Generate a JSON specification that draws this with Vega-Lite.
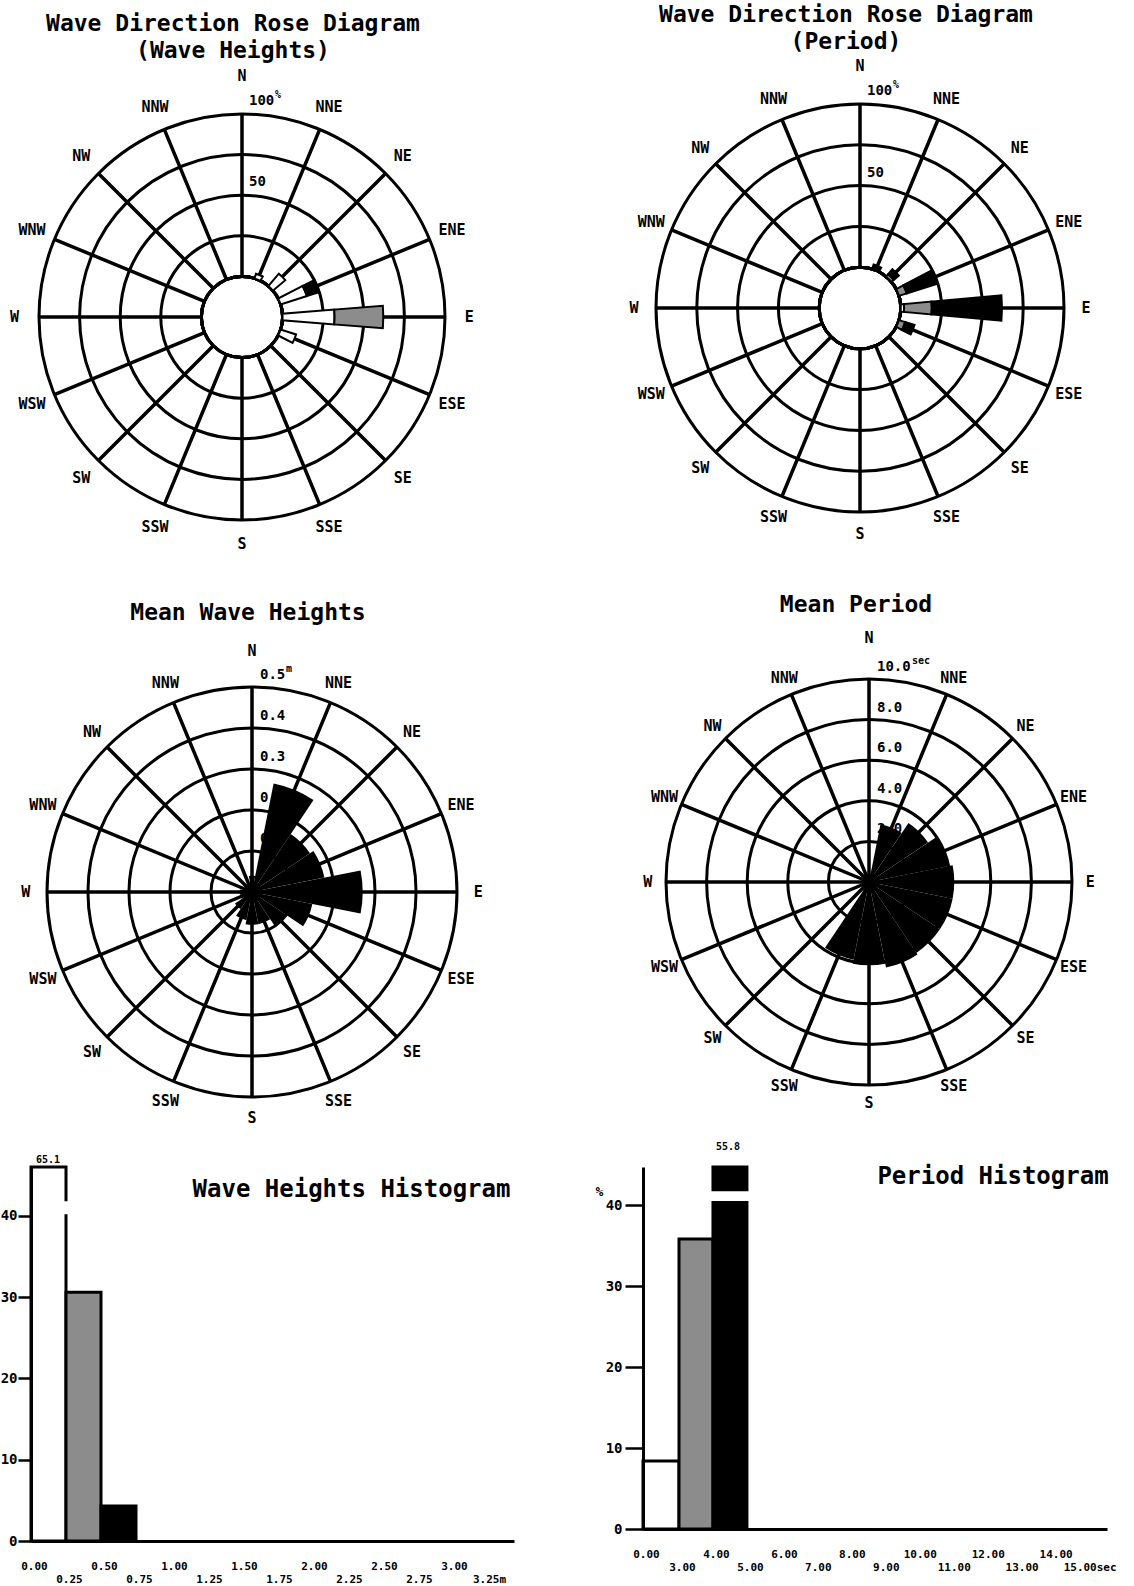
{
  "$schema": "https://vega.github.io/schema/vega-lite/v6.json",
  "background": "white",
  "padding": {"left": 0, "top": 3, "right": 0, "bottom": 0},
  "config": {
    "view": {"stroke": null},
    "text": {"font": "DejaVu Sans Mono", "fontWeight": "bold", "color": "black"},
    "axis": {"labelFont": "DejaVu Sans Mono", "labelFontWeight": "bold", "labelColor": "black", "domainColor": "black", "tickColor": "black", "grid": false, "titleFont": "DejaVu Sans Mono", "titleFontWeight": "bold", "titleColor": "black"},
    "title": {"font": "DejaVu Sans Mono", "fontWeight": "bold", "color": "black"}
  },
  "datasets": {
    "dirs": [
      {"dir": "N", "deg": 0}, {"dir": "NNE", "deg": 22.5}, {"dir": "NE", "deg": 45}, {"dir": "ENE", "deg": 67.5},
      {"dir": "E", "deg": 90}, {"dir": "ESE", "deg": 112.5}, {"dir": "SE", "deg": 135}, {"dir": "SSE", "deg": 157.5},
      {"dir": "S", "deg": 180}, {"dir": "SSW", "deg": 202.5}, {"dir": "SW", "deg": 225}, {"dir": "WSW", "deg": 247.5},
      {"dir": "W", "deg": 270}, {"dir": "WNW", "deg": 292.5}, {"dir": "NW", "deg": 315}, {"dir": "NNW", "deg": 337.5}
    ],
    "rings_pct": [
      {"pct": 25, "label": "", "unit": ""}, {"pct": 50, "label": "50", "unit": ""},
      {"pct": 75, "label": "", "unit": ""}, {"pct": 100, "label": "100", "unit": "%"}
    ],
    "inner_pct": [{"pct": 0}],
    "rings_h": [
      {"h": 0.1, "label": "0.1", "unit": ""}, {"h": 0.2, "label": "0.2", "unit": ""}, {"h": 0.3, "label": "0.3", "unit": ""},
      {"h": 0.4, "label": "0.4", "unit": ""}, {"h": 0.5, "label": "0.5", "unit": "m"}
    ],
    "rings_t": [
      {"t": 2, "label": "2.0", "unit": ""}, {"t": 4, "label": "4.0", "unit": ""}, {"t": 6, "label": "6.0", "unit": ""},
      {"t": 8, "label": "8.0", "unit": ""}, {"t": 10, "label": "10.0", "unit": "sec"}
    ],
    "rose_h": [
      {"dir": "NNE", "deg": 22.5, "k": 1, "cls": "0.00-0.25 m", "pct": 3},
      {"dir": "NE", "deg": 45, "k": 1, "cls": "0.00-0.25 m", "pct": 10},
      {"dir": "ENE", "deg": 67.5, "k": 1, "cls": "0.00-0.25 m", "pct": 17},
      {"dir": "ENE", "deg": 67.5, "k": 3, "cls": "0.50-0.75 m", "pct": 8},
      {"dir": "E", "deg": 90, "k": 1, "cls": "0.00-0.25 m", "pct": 32},
      {"dir": "E", "deg": 90, "k": 2, "cls": "0.25-0.50 m", "pct": 30},
      {"dir": "ESE", "deg": 112.5, "k": 1, "cls": "0.00-0.25 m", "pct": 10}
    ],
    "rose_t": [
      {"dir": "NNE", "deg": 22.5, "k": 3, "cls": "4-5 s", "pct": 3},
      {"dir": "NE", "deg": 45, "k": 2, "cls": "3-4 s", "pct": 2},
      {"dir": "NE", "deg": 45, "k": 3, "cls": "4-5 s", "pct": 4},
      {"dir": "ENE", "deg": 67.5, "k": 2, "cls": "3-4 s", "pct": 5},
      {"dir": "ENE", "deg": 67.5, "k": 3, "cls": "4-5 s", "pct": 19},
      {"dir": "E", "deg": 90, "k": 1, "cls": "0-3 s", "pct": 2},
      {"dir": "E", "deg": 90, "k": 2, "cls": "3-4 s", "pct": 17},
      {"dir": "E", "deg": 90, "k": 3, "cls": "4-5 s", "pct": 43},
      {"dir": "ESE", "deg": 112.5, "k": 2, "cls": "3-4 s", "pct": 4},
      {"dir": "ESE", "deg": 112.5, "k": 3, "cls": "4-5 s", "pct": 6}
    ],
    "mean_h": [
      {"dir": "N", "deg": 0, "h": 0.04}, {"dir": "NNE", "deg": 22.5, "h": 0.27}, {"dir": "NE", "deg": 45, "h": 0.17},
      {"dir": "ENE", "deg": 67.5, "h": 0.18}, {"dir": "E", "deg": 90, "h": 0.27}, {"dir": "ESE", "deg": 112.5, "h": 0.15},
      {"dir": "SE", "deg": 135, "h": 0.1}, {"dir": "SSE", "deg": 157.5, "h": 0.08}, {"dir": "S", "deg": 180, "h": 0.08},
      {"dir": "SSW", "deg": 202.5, "h": 0.07}, {"dir": "SW", "deg": 225, "h": 0.05}, {"dir": "WSW", "deg": 247.5, "h": 0.03},
      {"dir": "W", "deg": 270, "h": 0.03}, {"dir": "WNW", "deg": 292.5, "h": 0.02}, {"dir": "NW", "deg": 315, "h": 0.02},
      {"dir": "NNW", "deg": 337.5, "h": 0.02}
    ],
    "mean_t": [
      {"dir": "N", "deg": 0, "t": 0.2}, {"dir": "NNE", "deg": 22.5, "t": 2.9}, {"dir": "NE", "deg": 45, "t": 3.5},
      {"dir": "ENE", "deg": 67.5, "t": 4.0}, {"dir": "E", "deg": 90, "t": 4.2}, {"dir": "ESE", "deg": 112.5, "t": 4.2},
      {"dir": "SE", "deg": 135, "t": 4.2}, {"dir": "SSE", "deg": 157.5, "t": 4.3}, {"dir": "S", "deg": 180, "t": 4.1},
      {"dir": "SSW", "deg": 202.5, "t": 3.9}, {"dir": "SW", "deg": 225, "t": 0.2}, {"dir": "WSW", "deg": 247.5, "t": 0.2},
      {"dir": "W", "deg": 270, "t": 0.2}, {"dir": "WNW", "deg": 292.5, "t": 0.2}, {"dir": "NW", "deg": 315, "t": 0.2},
      {"dir": "NNW", "deg": 337.5, "t": 0.2}
    ],
    "hist_h": [
      {"cls": "0.00-0.25 m", "lo": 0, "hi": 0.25, "pct": 65.1},
      {"cls": "0.25-0.50 m", "lo": 0.25, "hi": 0.5, "pct": 30.6},
      {"cls": "0.50-0.75 m", "lo": 0.5, "hi": 0.75, "pct": 4.3}
    ],
    "hist_t": [
      {"cls": "0-3 s", "lo": 0, "hi": 3, "pct": 8.4},
      {"cls": "3-4 s", "lo": 3, "hi": 4, "pct": 35.8},
      {"cls": "4-5 s", "lo": 4, "hi": 5, "pct": 55.8}
    ],
    "break_h": [{"lo": 0, "hi": 0.25, "b0": 40.2, "b1": 41.8}],
    "break_t": [{"lo": 4, "hi": 5, "b0": 40.5, "b1": 41.7}]
  },
  "columns": 2,
  "align": "each",
  "bounds": "flush",
  "spacing": {"row": 12, "column": 129},
  "resolve": {"scale": {"theta": "independent", "radius": "independent", "fill": "independent", "x": "independent", "y": "independent"}},
  "concat": [
    {
      "width": 422, "height": 600,
      "title": {"text": ["Wave Direction Rose Diagram", "(Wave Heights)"], "anchor": "middle", "frame": "group", "offset": 0, "dx": -9, "dy": 57, "baseline": "middle", "fontSize": 23, "lineHeight": 27.5},
      "layer": [
        {"data": {"name": "rings_pct"}, "mark": {"type": "arc", "filled": false, "stroke": "black", "strokeWidth": 3},
         "encoding": {"theta": {"datum": 0, "type": "quantitative", "scale": {"type": "linear", "domain": [0, 360], "range": [0, 6.283185307179586], "nice": false, "zero": false}}, "theta2": {"datum": 360},
                      "radius": {"field": "pct", "type": "quantitative", "stack": null, "scale": {"type": "linear", "domain": [-25, 100], "range": [0, 203], "nice": false, "zero": false}}}},
        {"data": {"name": "dirs"}, "mark": {"type": "arc", "filled": false, "stroke": "black", "strokeWidth": 3.5},
         "encoding": {"theta": {"field": "deg", "type": "quantitative", "stack": null}, "theta2": {"field": "deg"},
                      "radius": {"datum": 100, "type": "quantitative", "stack": null}, "radius2": {"datum": 0}}},
        {"data": {"name": "inner_pct"}, "mark": {"type": "arc", "fill": "white", "stroke": "black", "strokeWidth": 3},
         "encoding": {"theta": {"datum": 0, "type": "quantitative"}, "theta2": {"datum": 360},
                      "radius": {"field": "pct", "type": "quantitative", "stack": null}}},
        {"data": {"name": "rose_h"},
         "transform": [{"stack": "pct", "groupby": ["dir"], "sort": [{"field": "k"}], "as": ["lo", "hi"]}],
         "mark": {"type": "arc", "stroke": "black", "strokeWidth": 2, "thetaOffset": -0.08, "theta2Offset": 0.08},
         "encoding": {"theta": {"field": "deg", "type": "quantitative", "stack": null}, "theta2": {"field": "deg"},
                      "radius": {"field": "hi", "type": "quantitative", "stack": null}, "radius2": {"field": "lo"},
                      "fill": {"field": "cls", "type": "nominal", "scale": {"domain": ["0.00-0.25 m", "0.25-0.50 m", "0.50-0.75 m"], "range": ["white", "#8c8c8c", "black"]}, "legend": null}}},
        {"data": {"name": "rings_pct"}, "transform": [{"filter": "datum.label != ''"}],
         "mark": {"type": "text", "align": "left", "dx": 7, "dy": -13, "fontSize": 14},
         "encoding": {"theta": {"datum": 0, "type": "quantitative"}, "radius": {"field": "pct", "type": "quantitative", "stack": null}, "text": {"field": "label"}}},
        {"data": {"name": "rings_pct"}, "transform": [{"filter": "datum.unit != ''"}],
         "mark": {"type": "text", "align": "left", "dx": 33, "dy": -19, "fontSize": 10},
         "encoding": {"theta": {"datum": 0, "type": "quantitative"}, "radius": {"field": "pct", "type": "quantitative", "stack": null}, "text": {"field": "unit"}}},
        {"data": {"name": "dirs"}, "transform": [{"filter": "datum.deg != 0"}], "mark": {"type": "text", "fontSize": 15},
         "encoding": {"theta": {"field": "deg", "type": "quantitative", "stack": null}, "radius": {"datum": 115, "type": "quantitative", "stack": null}, "text": {"field": "dir"}}},
        {"data": {"name": "dirs"}, "transform": [{"filter": "datum.deg == 0"}], "mark": {"type": "text", "fontSize": 15},
         "encoding": {"theta": {"field": "deg", "type": "quantitative", "stack": null}, "radius": {"datum": 123.5, "type": "quantitative", "stack": null}, "text": {"field": "dir"}}}
      ]
    },
    {
      "width": 434, "height": 582,
      "title": {"text": ["Wave Direction Rose Diagram", "(Period)"], "anchor": "middle", "frame": "group", "offset": 0, "dx": -14, "dy": 48, "baseline": "middle", "fontSize": 23, "lineHeight": 27.5},
      "layer": [
        {"data": {"name": "rings_pct"}, "mark": {"type": "arc", "filled": false, "stroke": "black", "strokeWidth": 3},
         "encoding": {"theta": {"datum": 0, "type": "quantitative", "scale": {"type": "linear", "domain": [0, 360], "range": [0, 6.283185307179586], "nice": false, "zero": false}}, "theta2": {"datum": 360},
                      "radius": {"field": "pct", "type": "quantitative", "stack": null, "scale": {"type": "linear", "domain": [-25, 100], "range": [0, 204], "nice": false, "zero": false}}}},
        {"data": {"name": "dirs"}, "mark": {"type": "arc", "filled": false, "stroke": "black", "strokeWidth": 3.5},
         "encoding": {"theta": {"field": "deg", "type": "quantitative", "stack": null}, "theta2": {"field": "deg"},
                      "radius": {"datum": 100, "type": "quantitative", "stack": null}, "radius2": {"datum": 0}}},
        {"data": {"name": "inner_pct"}, "mark": {"type": "arc", "fill": "white", "stroke": "black", "strokeWidth": 3},
         "encoding": {"theta": {"datum": 0, "type": "quantitative"}, "theta2": {"datum": 360},
                      "radius": {"field": "pct", "type": "quantitative", "stack": null}}},
        {"data": {"name": "rose_t"},
         "transform": [{"stack": "pct", "groupby": ["dir"], "sort": [{"field": "k"}], "as": ["lo", "hi"]}],
         "mark": {"type": "arc", "stroke": "black", "strokeWidth": 2, "thetaOffset": -0.09, "theta2Offset": 0.09},
         "encoding": {"theta": {"field": "deg", "type": "quantitative", "stack": null}, "theta2": {"field": "deg"},
                      "radius": {"field": "hi", "type": "quantitative", "stack": null}, "radius2": {"field": "lo"},
                      "fill": {"field": "cls", "type": "nominal", "scale": {"domain": ["0-3 s", "3-4 s", "4-5 s"], "range": ["white", "#8c8c8c", "black"]}, "legend": null}}},
        {"data": {"name": "rings_pct"}, "transform": [{"filter": "datum.label != ''"}],
         "mark": {"type": "text", "align": "left", "dx": 7, "dy": -13, "fontSize": 14},
         "encoding": {"theta": {"datum": 0, "type": "quantitative"}, "radius": {"field": "pct", "type": "quantitative", "stack": null}, "text": {"field": "label"}}},
        {"data": {"name": "rings_pct"}, "transform": [{"filter": "datum.unit != ''"}],
         "mark": {"type": "text", "align": "left", "dx": 33, "dy": -19, "fontSize": 10},
         "encoding": {"theta": {"datum": 0, "type": "quantitative"}, "radius": {"field": "pct", "type": "quantitative", "stack": null}, "text": {"field": "unit"}}},
        {"data": {"name": "dirs"}, "transform": [{"filter": "datum.deg != 0"}], "mark": {"type": "text", "fontSize": 15},
         "encoding": {"theta": {"field": "deg", "type": "quantitative", "stack": null}, "radius": {"datum": 113.5, "type": "quantitative", "stack": null}, "text": {"field": "dir"}}},
        {"data": {"name": "dirs"}, "transform": [{"filter": "datum.deg == 0"}], "mark": {"type": "text", "fontSize": 15},
         "encoding": {"theta": {"field": "deg", "type": "quantitative", "stack": null}, "radius": {"datum": 123, "type": "quantitative", "stack": null}, "text": {"field": "dir"}}}
      ]
    },
    {
      "width": 442, "height": 526,
      "title": {"text": "Mean Wave Heights", "anchor": "middle", "frame": "group", "offset": 0, "dx": -4, "dy": 7, "baseline": "middle", "fontSize": 23},
      "layer": [
        {"data": {"name": "rings_h"}, "mark": {"type": "text", "align": "left", "dx": 8, "dy": -12, "fontSize": 14},
         "encoding": {"theta": {"datum": 0, "type": "quantitative", "scale": {"type": "linear", "domain": [0, 360], "range": [0, 6.283185307179586], "nice": false, "zero": false}},
                      "radius": {"field": "h", "type": "quantitative", "stack": null, "scale": {"type": "linear", "domain": [0, 0.5], "range": [0, 205], "nice": false, "zero": false}}, "text": {"field": "label"}}},
        {"data": {"name": "rings_h"}, "transform": [{"filter": "datum.unit != ''"}],
         "mark": {"type": "text", "align": "left", "dx": 34, "dy": -18, "fontSize": 10},
         "encoding": {"theta": {"datum": 0, "type": "quantitative"}, "radius": {"field": "h", "type": "quantitative", "stack": null}, "text": {"field": "unit"}}},
        {"data": {"name": "rings_h"}, "mark": {"type": "arc", "filled": false, "stroke": "black", "strokeWidth": 3},
         "encoding": {"theta": {"datum": 0, "type": "quantitative"}, "theta2": {"datum": 360}, "radius": {"field": "h", "type": "quantitative", "stack": null}}},
        {"data": {"name": "dirs"}, "mark": {"type": "arc", "filled": false, "stroke": "black", "strokeWidth": 3.5},
         "encoding": {"theta": {"field": "deg", "type": "quantitative", "stack": null}, "theta2": {"field": "deg"},
                      "radius": {"datum": 0.5, "type": "quantitative", "stack": null}, "radius2": {"datum": 0}}},
        {"data": {"name": "mean_h"}, "mark": {"type": "arc", "fill": "black", "thetaOffset": -0.19635, "theta2Offset": 0.19635},
         "encoding": {"theta": {"field": "deg", "type": "quantitative", "stack": null}, "theta2": {"field": "deg"},
                      "radius": {"field": "h", "type": "quantitative", "stack": null}}},
        {"data": {"name": "dirs"}, "transform": [{"filter": "datum.deg != 0"}], "mark": {"type": "text", "fontSize": 15},
         "encoding": {"theta": {"field": "deg", "type": "quantitative", "stack": null}, "radius": {"datum": 0.552, "type": "quantitative", "stack": null}, "text": {"field": "dir"}}},
        {"data": {"name": "dirs"}, "transform": [{"filter": "datum.deg == 0"}], "mark": {"type": "text", "fontSize": 15},
         "encoding": {"theta": {"field": "deg", "type": "quantitative", "stack": null}, "radius": {"datum": 0.588, "type": "quantitative", "stack": null}, "text": {"field": "dir"}}}
      ]
    },
    {
      "width": 452, "height": 506,
      "title": {"text": "Mean Period", "anchor": "middle", "frame": "group", "offset": 0, "dx": -13, "dy": -1, "baseline": "middle", "fontSize": 23},
      "layer": [
        {"data": {"name": "rings_t"}, "mark": {"type": "text", "align": "left", "dx": 8, "dy": -12, "fontSize": 14},
         "encoding": {"theta": {"datum": 0, "type": "quantitative", "scale": {"type": "linear", "domain": [0, 360], "range": [0, 6.283185307179586], "nice": false, "zero": false}},
                      "radius": {"field": "t", "type": "quantitative", "stack": null, "scale": {"type": "linear", "domain": [0, 10], "range": [0, 203], "nice": false, "zero": false}}, "text": {"field": "label"}}},
        {"data": {"name": "rings_t"}, "transform": [{"filter": "datum.unit != ''"}],
         "mark": {"type": "text", "align": "left", "dx": 43, "dy": -18, "fontSize": 10},
         "encoding": {"theta": {"datum": 0, "type": "quantitative"}, "radius": {"field": "t", "type": "quantitative", "stack": null}, "text": {"field": "unit"}}},
        {"data": {"name": "rings_t"}, "mark": {"type": "arc", "filled": false, "stroke": "black", "strokeWidth": 3},
         "encoding": {"theta": {"datum": 0, "type": "quantitative"}, "theta2": {"datum": 360}, "radius": {"field": "t", "type": "quantitative", "stack": null}}},
        {"data": {"name": "dirs"}, "mark": {"type": "arc", "filled": false, "stroke": "black", "strokeWidth": 3.5},
         "encoding": {"theta": {"field": "deg", "type": "quantitative", "stack": null}, "theta2": {"field": "deg"},
                      "radius": {"datum": 10, "type": "quantitative", "stack": null}, "radius2": {"datum": 0}}},
        {"data": {"name": "mean_t"}, "mark": {"type": "arc", "fill": "black", "thetaOffset": -0.19635, "theta2Offset": 0.19635},
         "encoding": {"theta": {"field": "deg", "type": "quantitative", "stack": null}, "theta2": {"field": "deg"},
                      "radius": {"field": "t", "type": "quantitative", "stack": null}}},
        {"data": {"name": "dirs"}, "transform": [{"filter": "datum.deg != 0"}], "mark": {"type": "text", "fontSize": 15},
         "encoding": {"theta": {"field": "deg", "type": "quantitative", "stack": null}, "radius": {"datum": 10.9, "type": "quantitative", "stack": null}, "text": {"field": "dir"}}},
        {"data": {"name": "dirs"}, "transform": [{"filter": "datum.deg == 0"}], "mark": {"type": "text", "fontSize": 15},
         "encoding": {"theta": {"field": "deg", "type": "quantitative", "stack": null}, "radius": {"datum": 12.0, "type": "quantitative", "stack": null}, "text": {"field": "dir"}}}
      ]
    },
    {
      "width": 483, "height": 374,
      "title": {"text": "Wave Heights Histogram", "anchor": "middle", "frame": "group", "offset": 0, "dx": 79, "dy": 59, "baseline": "middle", "fontSize": 24},
      "data": {"name": "hist_h"},
      "resolve": {"axis": {"x": "independent"}},
      "layer": [
        {"mark": {"type": "bar", "stroke": "black", "strokeWidth": 3},
         "encoding": {
           "x": {"field": "lo", "type": "quantitative", "scale": {"domain": [0, 3.45], "nice": false, "zero": false},
                 "axis": {"orient": "bottom", "values": [0, 0.5, 1, 1.5, 2, 2.5, 3], "ticks": false, "tickSize": 0, "domainWidth": 3, "labelFontSize": 11, "labelPadding": 19, "labelOverlap": false, "labelFlush": false, "labelBound": false, "labelOffset": 3, "title": null, "format": ".2f"}},
           "x2": {"field": "hi"},
           "y": {"field": "pct", "type": "quantitative", "scale": {"domain": [0, 46], "nice": false, "clamp": true},
                 "axis": {"values": [0, 10, 20, 30, 40], "tickSize": 13, "tickWidth": 2.5, "domainWidth": 3, "labelFontSize": 14, "labelPadding": 1, "labelOverlap": false, "title": null, "zindex": 1}},
           "y2": {"datum": 0},
           "fill": {"field": "cls", "type": "nominal", "scale": {"domain": ["0.00-0.25 m", "0.25-0.50 m", "0.50-0.75 m"], "range": ["white", "#8c8c8c", "black"]}, "legend": null}}},
        {"data": {"name": "break_h"}, "mark": {"type": "bar", "fill": "white", "x2Offset": 3},
         "encoding": {"x": {"field": "lo", "type": "quantitative",
                            "axis": {"orient": "bottom", "values": [0.25, 0.75, 1.25, 1.75, 2.25, 2.75, 3.25], "domain": false, "ticks": false, "tickSize": 0, "labelFontSize": 11, "labelPadding": 32, "labelOverlap": false, "labelFlush": false, "labelBound": false, "labelOffset": 3, "title": null,
                                     "labelExpr": "format(datum.value, '.2f') + (datum.value > 3.2 ? 'm' : '')"}},
                      "x2": {"field": "hi"},
                      "y": {"field": "b1", "type": "quantitative"}, "y2": {"field": "b0"}}},
        {"transform": [{"filter": "datum.pct > 46"}], "mark": {"type": "text", "fontSize": 10, "dx": 17, "dy": -7},
         "encoding": {"x": {"field": "lo", "type": "quantitative", "axis": null}, "y": {"field": "pct", "type": "quantitative"},
                      "text": {"field": "pct", "type": "quantitative", "format": ".1f"}}}
      ]
    },
    {
      "width": 464, "height": 362,
      "title": {"text": "Period Histogram", "anchor": "middle", "frame": "group", "offset": 0, "dx": 118, "dy": 59, "baseline": "middle", "fontSize": 24},
      "data": {"name": "hist_t"},
      "resolve": {"axis": {"x": "independent"}},
      "layer": [
        {"mark": {"type": "bar", "stroke": "black", "strokeWidth": 3},
         "encoding": {
           "x": {"field": "lo", "type": "quantitative", "scale": {"type": "linear", "domain": [0, 3, 15.6], "range": [0, 36, 464], "nice": false, "zero": false},
                 "axis": {"orient": "bottom", "values": [0, 4, 6, 8, 10, 12, 14], "ticks": false, "tickSize": 0, "domainWidth": 3, "labelFontSize": 11, "labelPadding": 19, "labelOverlap": false, "labelFlush": false, "labelBound": false, "labelOffset": 3, "title": null, "format": ".2f"}},
           "x2": {"field": "hi"},
           "y": {"field": "pct", "type": "quantitative", "scale": {"domain": [0, 44.7], "nice": false, "clamp": true},
                 "axis": {"values": [0, 10, 20, 30, 40], "tickSize": 18, "tickWidth": 2.5, "domainWidth": 3, "labelFontSize": 14, "labelPadding": 3, "labelOverlap": false, "zindex": 1,
                          "title": "%", "titleAngle": 0, "titleX": -44, "titleY": 24, "titleAlign": "center", "titleBaseline": "middle", "titleFontSize": 13}},
           "y2": {"datum": 0},
           "fill": {"field": "cls", "type": "nominal", "scale": {"domain": ["0-3 s", "3-4 s", "4-5 s"], "range": ["white", "#8c8c8c", "black"]}, "legend": null}}},
        {"data": {"name": "break_t"}, "mark": {"type": "bar", "fill": "white", "xOffset": -3, "x2Offset": 3},
         "encoding": {"x": {"field": "lo", "type": "quantitative",
                            "axis": {"orient": "bottom", "values": [3, 5, 7, 9, 11, 13, 15], "domain": false, "ticks": false, "tickSize": 0, "labelFontSize": 11, "labelPadding": 32, "labelOverlap": false, "labelFlush": false, "labelBound": false, "labelOffset": 3, "title": null,
                                     "labelExpr": "format(datum.value, '.2f') + (datum.value == 15 ? 'sec' : '')"}},
                      "x2": {"field": "hi"},
                      "y": {"field": "b1", "type": "quantitative"}, "y2": {"field": "b0"}}},
        {"transform": [{"filter": "datum.pct > 45"}], "mark": {"type": "text", "fontSize": 10, "dx": 15, "dy": -20},
         "encoding": {"x": {"field": "lo", "type": "quantitative", "axis": null}, "y": {"field": "pct", "type": "quantitative"},
                      "text": {"field": "pct", "type": "quantitative", "format": ".1f"}}}
      ]
    }
  ]
}
